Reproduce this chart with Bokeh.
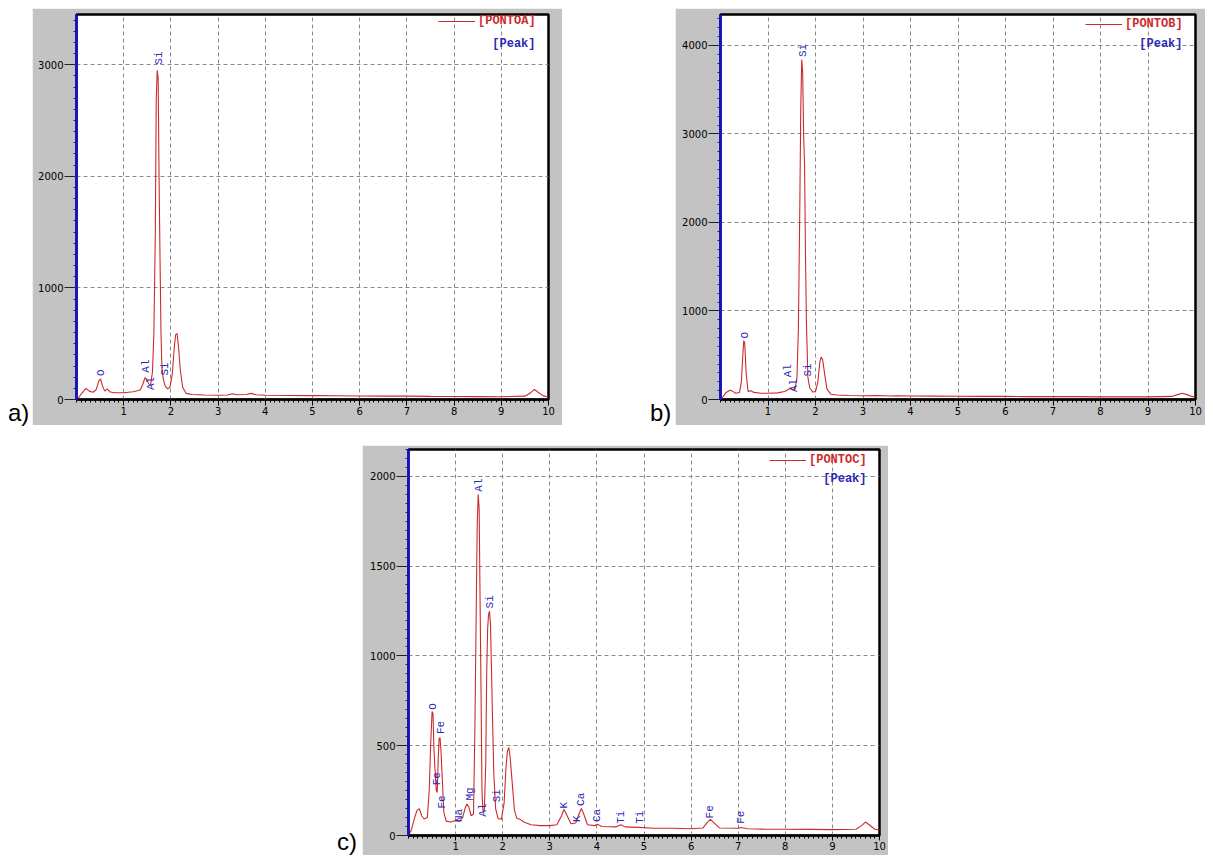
from math import pi
from bokeh.plotting import figure
from bokeh.layouts import row, column
from bokeh.models import (Range1d, FixedTicker, Legend, LegendItem, Label, Div,
                          Spacer, ColumnDataSource)
from bokeh.core.properties import value
from bokeh.embed import file_html
from bokeh.resources import INLINE

# ---------------- data ----------------
x_ticks = [1, 2, 3, 4, 5, 6, 7, 8, 9, 10]

# Panel a) PONTOA
energy_a = [0.00, 0.05, 0.12, 0.20, 0.27, 0.35, 0.42, 0.47, 0.51, 0.55, 0.60, 0.65, 0.70,
            0.80, 1.00, 1.20, 1.35, 1.40, 1.45, 1.49, 1.53, 1.57, 1.61, 1.64, 1.67, 1.69,
            1.71, 1.73, 1.75, 1.77, 1.79, 1.81, 1.84, 1.88, 1.93, 1.98, 2.03, 2.07, 2.10,
            2.13, 2.16, 2.20, 2.25, 2.32, 2.45, 2.70, 3.00, 3.20, 3.30, 3.40, 3.60, 3.70,
            3.80, 4.00, 4.50, 5.00, 5.50, 6.00, 6.50, 7.00, 7.50, 8.00, 8.50, 9.00, 9.50,
            9.62, 9.70, 9.78, 9.90, 10.00]
counts_a = [0, 20, 60, 100, 75, 65, 90, 165, 185, 120, 75, 95, 70,
            60, 60, 70, 85, 130, 195, 180, 140, 130, 250, 600, 1500, 2700,
            2950, 2880, 1950, 1250, 600, 280, 180, 120, 95, 110, 230, 460, 580,
            590, 480, 260, 110, 55, 45, 40, 38, 40, 52, 42, 45, 55,
            42, 38, 36, 35, 34, 32, 30, 30, 28, 27, 26, 25, 30,
            60, 90, 65, 30, 25]
peak_text_a = ["O", "Al", "Al", "Si", "Si"]
peak_energy_a = [0.51, 1.47, 1.57, 1.75, 1.87]
peak_counts_a = [210, 240, 85, 3000, 215]
y_ticks_a = [0, 1000, 2000, 3000]

# Panel b) PONTOB
energy_b = [0.00, 0.05, 0.12, 0.20, 0.25, 0.32, 0.40, 0.44, 0.47, 0.49, 0.51, 0.54, 0.58,
            0.64, 0.70, 0.85, 1.00, 1.20, 1.35, 1.42, 1.47, 1.52, 1.57, 1.61, 1.64, 1.67,
            1.69, 1.71, 1.73, 1.75, 1.77, 1.79, 1.81, 1.84, 1.88, 1.94, 2.00, 2.05, 2.09,
            2.12, 2.15, 2.19, 2.24, 2.32, 2.45, 2.70, 3.00, 3.30, 3.60, 3.70, 4.00, 4.50,
            5.00, 5.50, 6.00, 6.50, 7.00, 7.50, 8.00, 8.50, 9.00, 9.50, 9.62, 9.72, 9.82,
            9.92, 10.00]
counts_b = [0, 30, 80, 105, 95, 70, 80, 200, 500, 665, 640, 300, 90,
            100, 80, 70, 70, 75, 90, 110, 130, 110, 120, 250, 800, 2200,
            3300, 3840, 3700, 3000, 2650, 1600, 850, 250, 130, 85, 90, 200, 420,
            480, 450, 300, 120, 60, 50, 45, 42, 45, 40, 42, 40, 38,
            36, 35, 35, 33, 32, 32, 30, 30, 30, 35, 55, 70, 55,
            35, 30]
peak_text_b = ["O", "Al", "Al", "Si", "Si"]
peak_energy_b = [0.51, 1.43, 1.55, 1.74, 1.84]
peak_counts_b = [690, 250, 85, 3870, 260]
y_ticks_b = [0, 1000, 2000, 3000, 4000]

# Panel c) PONTOC
energy_c = [0.00, 0.06, 0.12, 0.18, 0.23, 0.28, 0.33, 0.40, 0.44, 0.47, 0.50, 0.52, 0.54,
            0.56, 0.59, 0.61, 0.63, 0.65, 0.67, 0.69, 0.72, 0.75, 0.80, 0.90, 1.00, 1.08,
            1.15, 1.20, 1.24, 1.28, 1.33, 1.38, 1.41, 1.44, 1.46, 1.48, 1.50, 1.52, 1.54,
            1.56, 1.58, 1.61, 1.64, 1.66, 1.68, 1.70, 1.72, 1.74, 1.76, 1.78, 1.81, 1.85,
            1.90, 1.97, 2.03, 2.07, 2.10, 2.13, 2.16, 2.20, 2.25, 2.30, 2.37, 2.45, 2.60,
            2.80, 3.00, 3.15, 3.25, 3.30, 3.35, 3.45, 3.55, 3.62, 3.67, 3.72, 3.80, 3.95,
            4.02, 4.10, 4.40, 4.51, 4.60, 4.90, 5.20, 5.60, 6.00, 6.25, 6.35, 6.41, 6.47,
            6.60, 7.00, 7.06, 7.20, 7.60, 8.00, 8.50, 9.00, 9.50, 9.62, 9.70, 9.78, 9.90,
            10.00]
counts_c = [0, 30, 90, 140, 150, 110, 92, 100, 250, 500, 690, 680, 480,
            380, 250, 240, 420, 540, 545, 470, 300, 130, 80, 75, 84, 78,
            100, 150, 175, 160, 110, 120, 600, 1300, 1750, 1900, 1820, 1300, 800,
            250, 140, 140, 400, 900, 1150, 1230, 1250, 1180, 950, 700, 350, 150,
            95, 90, 180, 380, 470, 490, 430, 300, 140, 95, 90, 75, 60,
            55, 55, 60, 110, 145, 120, 65, 70, 120, 150, 120, 60, 55,
            62, 50, 48, 60, 48, 45, 40, 40, 38, 42, 75, 90, 75,
            42, 40, 45, 38, 35, 35, 34, 33, 35, 55, 75, 60, 35,
            30]
peak_text_c = ["O", "Fe", "Fe", "Fe", "Na", "Mg", "Al", "Al", "Si", "Si",
               "K", "K", "Ca", "Ca", "Ti", "Ti", "Fe", "Fe"]
peak_energy_c = [0.52, 0.70, 0.60, 0.72, 1.07, 1.30, 1.50, 1.58, 1.74, 1.88,
                 3.30, 3.58, 3.67, 4.00, 4.52, 4.92, 6.40, 7.06]
peak_counts_c = [700, 565, 280, 150, 75, 195, 1915, 105, 1265, 185,
                 150, 75, 165, 75, 65, 65, 95, 65]
y_ticks_c = [0, 500, 1000, 1500, 2000]

# ---------------- styling ----------------
RED = "#cc2b2b"
BLUE = "#2a2ab8"
AXBLUE = "#1414c8"
GRAY = "#c3c3c3"
MONO = "Liberation Mono"


def make_panel(series, energy, counts, pk_e, pk_c, pk_t, ymax, yticks, yminor,
               width, height, bl, br, bt, bb, x_tick_out):
    frame_w = width - bl - br
    frame_h = height - bt - bb
    p = figure(width=width, height=height, x_range=Range1d(0, 10),
               y_range=Range1d(0, ymax), output_backend="svg",
               toolbar_location=None, min_border_left=bl, min_border_right=br,
               min_border_top=bt, min_border_bottom=bb, margin=0)
    p.background_fill_color = "white"
    p.border_fill_color = GRAY
    p.outline_line_color = "black"
    p.outline_line_width = 2.5

    xminor = [round(i * 0.1, 1) for i in range(101)]
    p.xaxis.ticker = FixedTicker(ticks=x_ticks, minor_ticks=xminor)
    nmin = int(round(ymax / yminor)) + 1
    p.yaxis.ticker = FixedTicker(ticks=yticks, minor_ticks=[i * yminor for i in range(nmin)])

    xa = p.xaxis[0]
    xa.axis_line_color = "black"
    xa.axis_line_width = 2
    xa.major_tick_line_color = "black"
    xa.major_tick_out = x_tick_out
    xa.major_tick_in = 0
    xa.minor_tick_line_color = "black"
    xa.minor_tick_out = 3
    xa.minor_tick_in = 0
    xa.major_label_text_font = "DejaVu Sans"
    xa.major_label_text_font_size = "10px"
    xa.major_label_text_color = "black"
    xa.major_label_standoff = 1

    ya = p.yaxis[0]
    ya.axis_line_color = AXBLUE
    ya.axis_line_width = 2.5
    ya.major_tick_line_color = "#222222"
    ya.major_tick_out = 12
    ya.major_tick_in = 0
    ya.minor_tick_line_color = AXBLUE
    ya.minor_tick_out = 3
    ya.minor_tick_in = 0
    ya.major_label_text_font = "DejaVu Sans"
    ya.major_label_text_font_size = "10px"
    ya.major_label_text_color = "black"
    ya.major_label_standoff = 1

    for g in (p.xgrid[0], p.ygrid[0]):
        g.grid_line_color = "#8a8a8a"
        g.grid_line_dash = "4 3"
        g.grid_line_width = 1

    src = ColumnDataSource(dict(e=energy, c=counts))
    r = p.line("e", "c", source=src, line_color=RED, line_width=1.1)

    pk = ColumnDataSource(dict(e=pk_e, c=pk_c, t=pk_t))
    p.text("e", "c", text="t", source=pk, angle=pi / 2, text_align="left",
           text_baseline="middle", text_font=value(MONO), text_font_size="11px",
           text_color=BLUE)

    leg = Legend(items=[LegendItem(label=series, renderers=[r])],
                 location=(frame_w - 13 - 97, frame_h - 18),
                 label_text_font=MONO, label_text_font_style="bold",
                 label_text_font_size="12px", label_text_color=RED,
                 glyph_width=37, glyph_height=12, label_height=12,
                 label_standoff=3, padding=0, margin=0, spacing=0,
                 background_fill_alpha=0, border_line_alpha=0)
    p.add_layout(leg)

    p.add_layout(Label(x=10, y=ymax, x_offset=-13, y_offset=-29, text="[Peak]",
                       text_align="right", text_baseline="middle",
                       text_font=MONO, text_font_style="bold",
                       text_font_size="12px", text_color=BLUE))
    p.add_layout(Label(x=0, y=0, y_offset=-4, text="\u25b2", text_align="center",
                       text_baseline="middle", text_font="DejaVu Sans",
                       text_font_size="11px", text_color=AXBLUE))
    return p


def tag(txt, w, h, top):
    return Div(text=f'<div style="margin-top:{top}px;font-family:\'Liberation Sans\',Arial;'
                    f'font-size:24px;line-height:24px;color:black;">{txt}</div>',
               width=w, height=h, margin=0)


pa = make_panel("[PONTOA]", energy_a, counts_a, peak_energy_a, peak_counts_a, peak_text_a,
                3450, y_ticks_a, 100, 530, 417, 44, 14, 6, 22, 6)
pb = make_panel("[PONTOB]", energy_b, counts_b, peak_energy_b, peak_counts_b, peak_text_b,
                4350, y_ticks_b, 100, 530, 417, 45, 10, 5, 26, 6)
pc = make_panel("[PONTOC]", energy_c, counts_c, peak_energy_c, peak_counts_c, peak_text_c,
                2150, y_ticks_c, 50, 526, 410, 46, 9, 4, 20, 5)

row1 = row(Spacer(width=8, height=417, margin=0), tag("a)", 24, 417, 393), pa,
           Spacer(width=88, height=417, margin=0), tag("b)", 25, 417, 393), pb, spacing=0)
row2 = row(Spacer(width=337, height=410, margin=0), tag("c)", 25, 410, 385), pc, spacing=0)
layout = column(Spacer(height=8, width=10, margin=0), row1,
                Spacer(height=20, width=10, margin=0), row2, spacing=0)

open("out.html", "w").write(file_html(layout, INLINE))
